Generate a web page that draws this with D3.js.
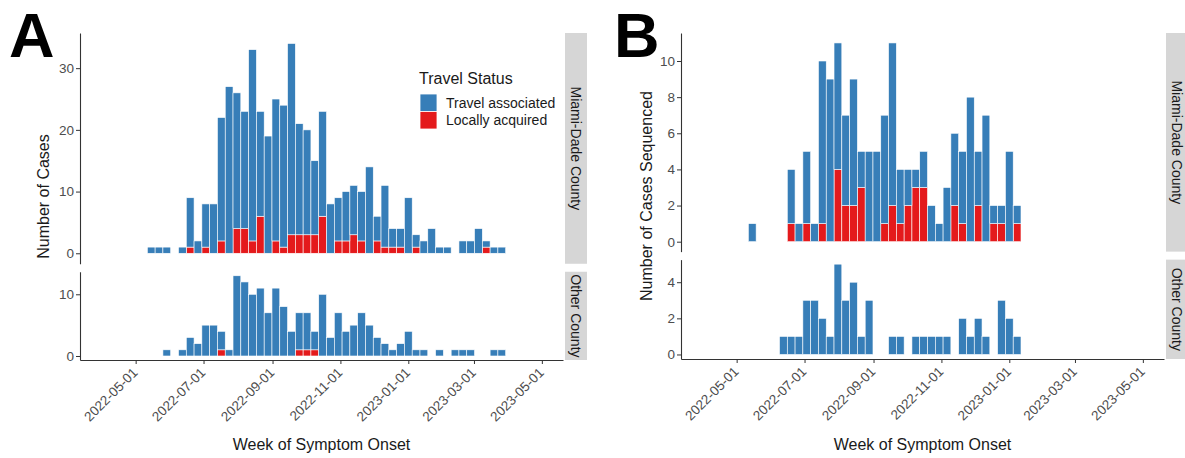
<!DOCTYPE html>
<html><head><meta charset="utf-8">
<script src="https://cdn.jsdelivr.net/npm/d3@7"></script>
<style>
body{margin:0;background:#fff}
svg{display:block}
text{font-family:"Liberation Sans",Arial,Helvetica,sans-serif}
</style>
</head><body>
<svg id="chart" width="1185" height="458"></svg>
<script>
// ---- data ----
const weeks = ["2022-05-15","2022-05-22","2022-05-29","2022-06-05","2022-06-12","2022-06-19","2022-06-26",
  "2022-07-03","2022-07-10","2022-07-17","2022-07-24","2022-07-31","2022-08-07","2022-08-14","2022-08-21",
  "2022-08-28","2022-09-04","2022-09-11","2022-09-18","2022-09-25","2022-10-02","2022-10-09","2022-10-16",
  "2022-10-23","2022-10-30","2022-11-06","2022-11-13","2022-11-20","2022-11-27","2022-12-04","2022-12-11",
  "2022-12-18","2022-12-25","2023-01-01","2023-01-08","2023-01-15","2023-01-22","2023-01-29","2023-02-05",
  "2023-02-12","2023-02-19","2023-02-26","2023-03-05","2023-03-12","2023-03-19","2023-03-26"];

// Panel A: all cases
const aMiamiTravel = [1,1,1,0,1,8,2,7,8,20,27,22,19,31,17,19,23,23,31,18,17,12,17,8,7,8,8,8,14,4,10,3,3,9,2,2,4,1,1,0,2,2,4,1,1,1];
const aMiamiLocal  = [0,0,0,0,0,1,0,1,0,2,0,4,4,2,6,0,2,1,3,3,3,3,6,0,2,2,3,2,0,2,1,1,1,0,1,0,0,0,0,0,0,0,0,1,0,0];
const aOtherTravel = [0,0,1,0,1,3,2,5,5,3,1,13,12,10,11,7,11,8,4,6,6,3,10,3,7,4,5,7,5,3,2,1,2,4,1,1,0,1,0,1,1,1,0,0,1,1];
const aOtherLocal  = [0,0,0,0,0,0,0,0,0,1,0,0,0,0,0,0,0,0,0,1,1,1,0,0,0,0,0,0,0,0,0,0,0,0,0,0,0,0,0,0,0,0,0,0,0,0];

// Panel B: sequenced cases
const bMiamiTravel = [1,0,0,0,0,3,1,4,1,9,9,7,5,7,2,5,5,6,9,3,2,1,2,2,1,3,4,4,8,3,7,1,1,5,1,0,0,0,0,0,0,0,0,0,0,0];
const bMiamiLocal  = [0,0,0,0,0,1,0,1,0,1,0,4,2,2,3,0,0,1,2,1,2,3,3,0,0,0,2,1,0,2,0,1,1,0,1,0,0,0,0,0,0,0,0,0,0,0];
const bOtherTravel = [0,0,0,0,1,1,1,3,3,2,1,5,3,4,1,3,0,0,1,1,0,1,1,1,1,1,0,2,1,2,1,0,3,2,1,0,0,0,0,0,0,0,0,0,0,0];
const bOtherLocal  = [0,0,0,0,0,0,0,0,0,0,0,0,0,0,0,0,0,0,0,0,0,0,0,0,0,0,0,0,0,0,0,0,0,0,0,0,0,0,0,0,0,0,0,0,0,0];

const facetNames = ["Miami-Dade County","Other County"];
const aMiamiTicks = [0,10,20,30];
const aOtherTicks = [0,10];
const bMiamiTicks = [0,2,4,6,8,10];
const bOtherTicks = [0,2,4];
const dateTicks = ["2022-05-01","2022-07-01","2022-09-01","2022-11-01","2023-01-01","2023-03-01","2023-05-01"];
const dateLimits = ["2022-03-12","2023-05-20"];
const seriesKeys = ["local","travel"];
const seriesNames = {travel:"Travel associated", local:"Locally acquired"};
const colors = {travel:"#377EB8", local:"#E41A1C"};

// ---- drawing ----
const parse = d3.utcParse("%Y-%m-%d");
const svg = d3.select("#chart");
const FONT_TICK = 13.5, AXIS_COL = "#333333", TICK_TEXT = "#4D4D4D";
const FF = '"Liberation Sans",Arial,sans-serif';

function drawPanel(cfg){
  const g = svg.append("g");
  const x = d3.scaleUtc().domain(dateLimits.map(parse)).range([cfg.left, cfg.right]);
  const maxes = cfg.facets.map(f => d3.max(f.travel.map((v,i)=>v+f.local[i])));
  const spans = maxes.map(m => m*1.1);
  const total = d3.sum(spans);
  const avail = cfg.bottom - cfg.top - cfg.gap*(cfg.facets.length-1);
  let yCursor = cfg.top;
  const halfWeek = 3.5*24*3600*1000;

  cfg.facets.forEach((f, fi) => {
    const h = avail*spans[fi]/total;
    const y0 = yCursor, y1 = yCursor + h;
    yCursor = y1 + cfg.gap;
    const y = d3.scaleLinear().domain([-0.05*maxes[fi], 1.05*maxes[fi]]).range([y1, y0]);

    const rows = weeks.map((w,i)=>({date:parse(w), travel:f.travel[i], local:f.local[i]}));
    const stacked = d3.stack().keys(seriesKeys)(rows);
    const bars = g.append("g");
    stacked.forEach(layer => {
      bars.selectAll(null).data(layer.filter(d => d[1]-d[0] > 0)).join("rect")
        .attr("x", d => x(new Date(+d.data.date - halfWeek)))
        .attr("width", d => x(new Date(+d.data.date + halfWeek)) - x(new Date(+d.data.date - halfWeek)))
        .attr("y", d => y(d[1]))
        .attr("height", d => y(d[0]) - y(d[1]))
        .attr("fill", colors[layer.key])
        .attr("stroke", "#ffffff")
        .attr("stroke-width", 0.6);
    });

    // y axis
    const ya = g.append("g").attr("transform", `translate(${cfg.left},0)`)
      .call(d3.axisLeft(y).tickValues(f.ticks).tickFormat(d3.format("d")).tickSize(4).tickSizeOuter(0).tickPadding(2));
    ya.select(".domain").attr("stroke", AXIS_COL).attr("stroke-width", 1.1);
    ya.selectAll(".tick line").attr("stroke", AXIS_COL);
    ya.selectAll(".tick text").attr("fill", TICK_TEXT).style("font-size", FONT_TICK+"px")
      .style("font-family", FF);

    // strip
    const sx = cfg.right + 2, sw = 22;
    g.append("rect").attr("x", sx).attr("y", y0).attr("width", sw).attr("height", h).attr("fill", "#D6D6D6");
    g.append("text").attr("transform", `translate(${sx+sw/2},${(y0+y1)/2}) rotate(90)`)
      .attr("text-anchor","middle").attr("dy","0.35em").style("font-size","14px").attr("fill","#1A1A1A")
      .text(facetNames[fi]);

    // x axis on last facet
    if (fi === cfg.facets.length-1){
      const xa = g.append("g").attr("transform", `translate(0,${y1})`)
        .call(d3.axisBottom(x).tickValues(dateTicks.map(parse)).tickFormat(d3.utcFormat("%Y-%m-%d"))
          .tickSize(4).tickSizeOuter(0).tickPadding(2));
      xa.select(".domain").attr("stroke", AXIS_COL).attr("stroke-width", 1.1);
      xa.selectAll(".tick line").attr("stroke", AXIS_COL);
      xa.selectAll(".tick text").attr("fill", TICK_TEXT).style("font-size", FONT_TICK+"px")
        .style("font-family", FF)
        .attr("text-anchor","end").attr("y", null)
        .attr("transform", "translate(-1,10) rotate(-45)")
        .attr("dy","0.35em");
      g.append("text").attr("x", (cfg.left+cfg.right)/2).attr("y", 450)
        .attr("text-anchor","middle").style("font-size","16px").attr("fill","#1A1A1A")
        .text("Week of Symptom Onset");
    }
  });

  // y title
  g.append("text").attr("transform", `translate(${cfg.ytitleX},${(cfg.top+cfg.bottom)/2}) rotate(-90)`)
    .attr("text-anchor","middle").attr("dy","0.35em").style("font-size","16px").attr("fill","#1A1A1A")
    .text(cfg.ytitle);

  // panel letter
  g.append("text").attr("x", cfg.letterX).attr("y", 57).style("font-size","63px").style("font-weight","bold")
    .attr("fill","#000").text(cfg.letter);
}

drawPanel({left:80, right:563, top:33, bottom:360, gap:8, letter:"A", letterX:9, ytitleX:43,
  ytitle:"Number of Cases",
  facets:[{travel:aMiamiTravel, local:aMiamiLocal, ticks:aMiamiTicks},
          {travel:aOtherTravel, local:aOtherLocal, ticks:aOtherTicks}]});

drawPanel({left:681, right:1164, top:33, bottom:359, gap:8, letter:"B", letterX:614, ytitleX:646,
  ytitle:"Number of Cases Sequenced",
  facets:[{travel:bMiamiTravel, local:bMiamiLocal, ticks:bMiamiTicks},
          {travel:bOtherTravel, local:bOtherLocal, ticks:bOtherTicks}]});

// legend (panel A)
const leg = svg.append("g").attr("transform","translate(419,0)");
leg.append("text").attr("x",0).attr("y",84).style("font-size","16px").attr("fill","#1A1A1A").text("Travel Status");
["travel","local"].forEach((k,i)=>{
  leg.append("rect").attr("x",1).attr("y",94+i*17.5).attr("width",17).attr("height",17.5)
    .attr("fill",colors[k]).attr("stroke","#fff").attr("stroke-width",0.8);
  leg.append("text").attr("x",27).attr("y",103+i*17.5).attr("dy","0.35em").style("font-size","14px")
    .attr("fill","#1A1A1A").text(seriesNames[k]);
});
</script>
</body></html>
